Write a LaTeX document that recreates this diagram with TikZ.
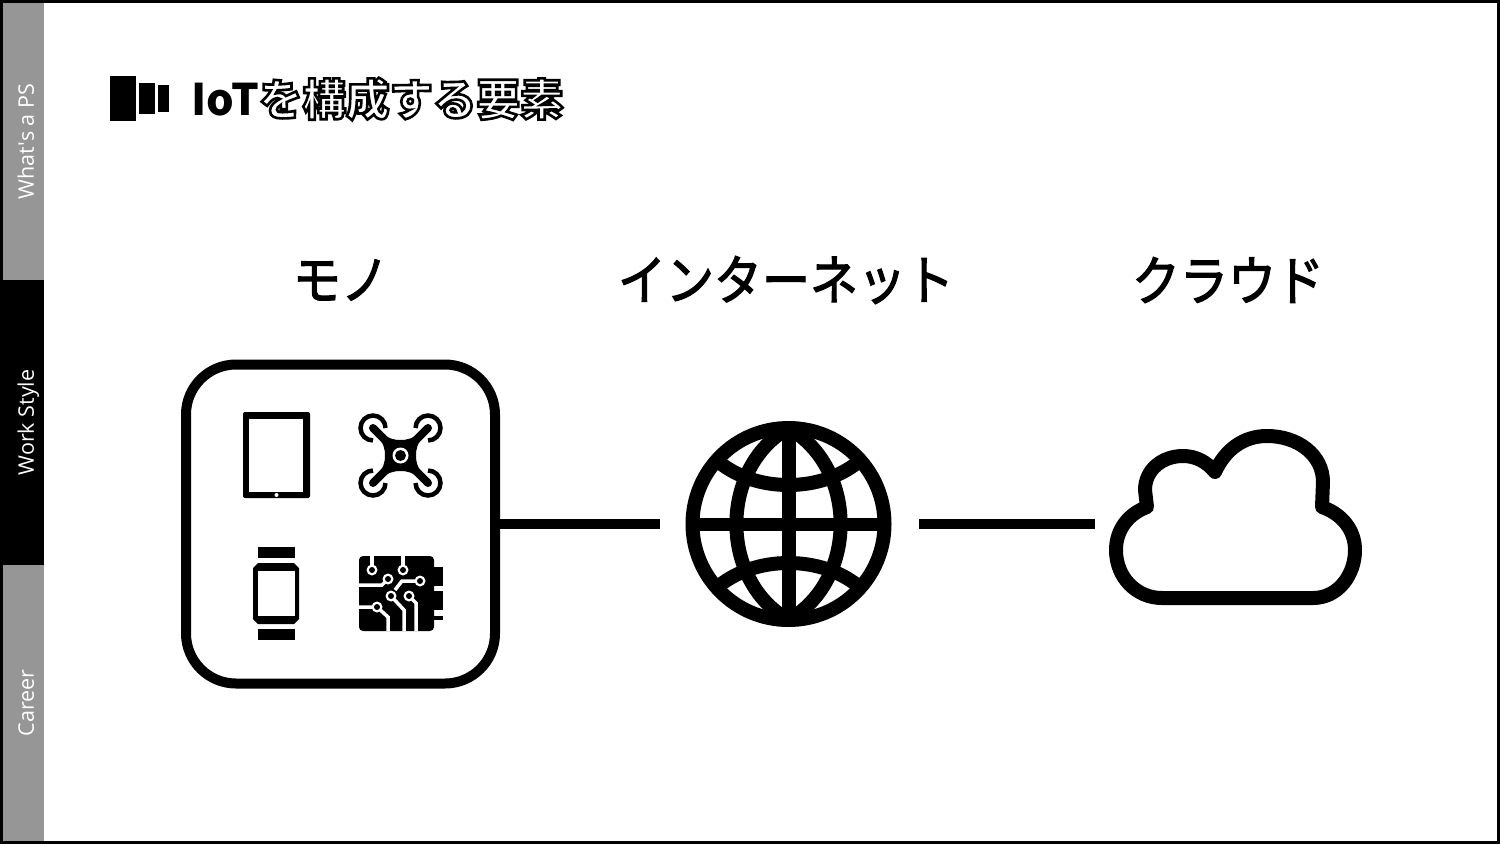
\documentclass[tikz,border=0pt]{standalone}
\usepackage{fontspec}
\usepackage{xcolor}
\usetikzlibrary{positioning, calc}
\newfontfamily\jpfont{Noto Sans CJK JP}
\newfontfamily\tabfont{Open Sans}
\newcommand{\outlinetext}[1]{\special{pdf:code 1 Tr 2.6 w}#1\special{pdf:code 0 Tr 1 w}}
\newcommand{\heavytext}[1]{\scalebox{1}[1.12]{\special{pdf:code 2 Tr 1.1 w}#1\special{pdf:code 0 Tr 1 w}}}
\definecolor{tabgrey}{HTML}{969696}
\tikzstyle{tab}     = [minimum width=277pt, minimum height=41pt, inner sep=0pt, rotate=90, text=white, text height=21pt, text depth=0pt, font=\tabfont\fontsize{21.5}{21.5}\selectfont]
\tikzstyle{heading} = [inner sep=0pt, font=\jpfont\fontsize{48}{48}\selectfont]
\tikzstyle{link}    = [line width=10pt]
\tikzstyle{glyph}   = [line width=14pt, line join=round]
\tikzstyle{trace}   = [white, line width=3.5pt]

\begin{document}
\begin{tikzpicture}[x=1pt, y=-1pt]
\useasboundingbox (0,0) rectangle (1500,844);

% sidebar
\node[tab, fill=tabgrey] (tab1) at (23.5,141.5) {What's a PS};
\node[tab, fill=black, minimum width=285pt] (tab2) at (23.5,422.5) {Work Style};
\node[tab, fill=tabgrey, minimum width=276pt] (tab3) at (23.5,703) {Career};
\draw[line width=3pt] (1.5,1.5) rectangle (1498.5,842.5);

% title
\fill (110,76) rectangle (136,121);
\fill (139,83) rectangle (155,114);
\fill (158,85) rectangle (169,112);
\node[anchor=west, inner sep=0pt] (title) at (191,99) {\jpfont\fontsize{43.5}{44}\selectfont\bfseries IoT\outlinetext{を構成する要素}};

% headings
\node[heading] (h1) at (341,280) {\heavytext{モノ}};
\node[heading] (h2) at (786,280) {\heavytext{インターネット}};
\node[heading] (h3) at (1228,280) {\heavytext{クラウド}};

% frame round the devices
\node[draw, line width=10pt, rounded corners=50pt, minimum width=309pt, minimum height=319pt, outer sep=0pt] (mono) at (340.5,524) {};

% tablet
\fill[rounded corners=2pt] (243,412) rectangle (310,498);
\fill[white] (249,419) rectangle (303,492);
\fill[white] (276.5,495) circle (2);

% drone
\foreach \rx/\ry/\sa in {373/428/0, 428/428/-270, 373/483/-90, 428/483/-180} {
  \draw[line width=4.5pt] (\rx,\ry) ++(\sa:12.5) arc[start angle=\sa, end angle=\sa-270, radius=12.5];
  \draw[line width=8pt, line cap=round] (\rx,\ry) -- (400.5,455.5);
}
\fill (380,431) .. controls (388,439) and (394,440) .. (400.5,440)
  .. controls (407,440) and (413,439) .. (421,431) -- (425,435)
  .. controls (417,443) and (416,449) .. (416,455.5)
  .. controls (416,462) and (417,468) .. (425,476) -- (421,480)
  .. controls (413,472) and (407,471) .. (400.5,471)
  .. controls (394,471) and (388,472) .. (380,480) -- (376,476)
  .. controls (384,468) and (385,462) .. (385,455.5)
  .. controls (385,449) and (384,443) .. (376,435) -- cycle;
\fill[white] (400.5,455.5) circle (8);
\fill (400.5,455.5) circle (5.5);

% watch
\fill (258,547) rectangle (295,558);
\fill (258,629) rectangle (295,640);
\fill (258,563) -- (294,563) -- (299,568) -- (299,619) -- (294,624) -- (258,624) -- (253,619) -- (253,568) -- cycle;
\fill[white] (258,571) rectangle (295,616);

% chip
\fill[rounded corners=4pt] (359,556) rectangle (434,631);
\fill (430,567) rectangle (443,586);
\fill (430,591) rectangle (443,610);
\fill (430,616) rectangle (443,620);
\draw[trace] (372,570) -- (372,556);
\draw[trace] (403,570) -- (403,556);
\draw[trace] (388,579) -- (382,585) -- (359,585);
\draw[trace] (420,581) -- (402,581) -- (395,590);
\draw[trace] (391,596) -- (404,610) -- (404,631);
\draw[trace] (409,596) -- (416,603) -- (416,631);
\draw[trace] (359,607) -- (377,607) -- (388,617) -- (388,631);
\foreach \px/\py in {372/570, 403/570, 388/579, 420/581, 391/596, 409/596, 377/607} {
  \fill[white] (\px,\py) circle (5.5);
  \fill (\px,\py) circle (3);
}

% globe
\node[circle, draw, line width=14pt, minimum size=192pt, inner sep=0pt, outer sep=0pt] (globe) at (788.5,524) {};
\draw[glyph] (globe.north) -- (globe.south);
\draw[line width=13pt] (globe.west) -- (globe.east);
\draw[glyph] (globe.north) .. controls (719,468) and (719,580) .. (globe.south);
\draw[glyph] (globe.north) .. controls (858,468) and (858,580) .. (globe.south);
\draw[glyph] (714,458) .. controls (735,477) and (762,485) .. (788.5,485) .. controls (815,485) and (842,477) .. (863,458);
\draw[glyph] (714,590) .. controls (735,571) and (762,563) .. (788.5,563) .. controls (815,563) and (842,571) .. (863,590);

% cloud
\coordinate (cloudw) at (1095,524);
\draw[glyph] (1162,598) -- (1313,598) .. controls (1338,598) and (1355,575) .. (1355,550)
  .. controls (1355,530) and (1342,514) .. (1322,507) -- (1323,482)
  .. controls (1323,455) and (1298,436) .. (1267,436)
  .. controls (1243,436) and (1225,450) .. (1215,472)
  .. controls (1207,462) and (1196,456) .. (1183,456)
  .. controls (1162,456) and (1145,470) .. (1145,490) -- (1147,507)
  .. controls (1128,514) and (1116,530) .. (1116,550)
  .. controls (1116,578) and (1137,598) .. (1162,598) -- cycle;

% connectors
\draw[link] (mono.east) -- ([xshift=-32.5pt]globe.west);
\draw[link] ([xshift=34.5pt]globe.east) -- (cloudw);

\end{tikzpicture}
\end{document}
